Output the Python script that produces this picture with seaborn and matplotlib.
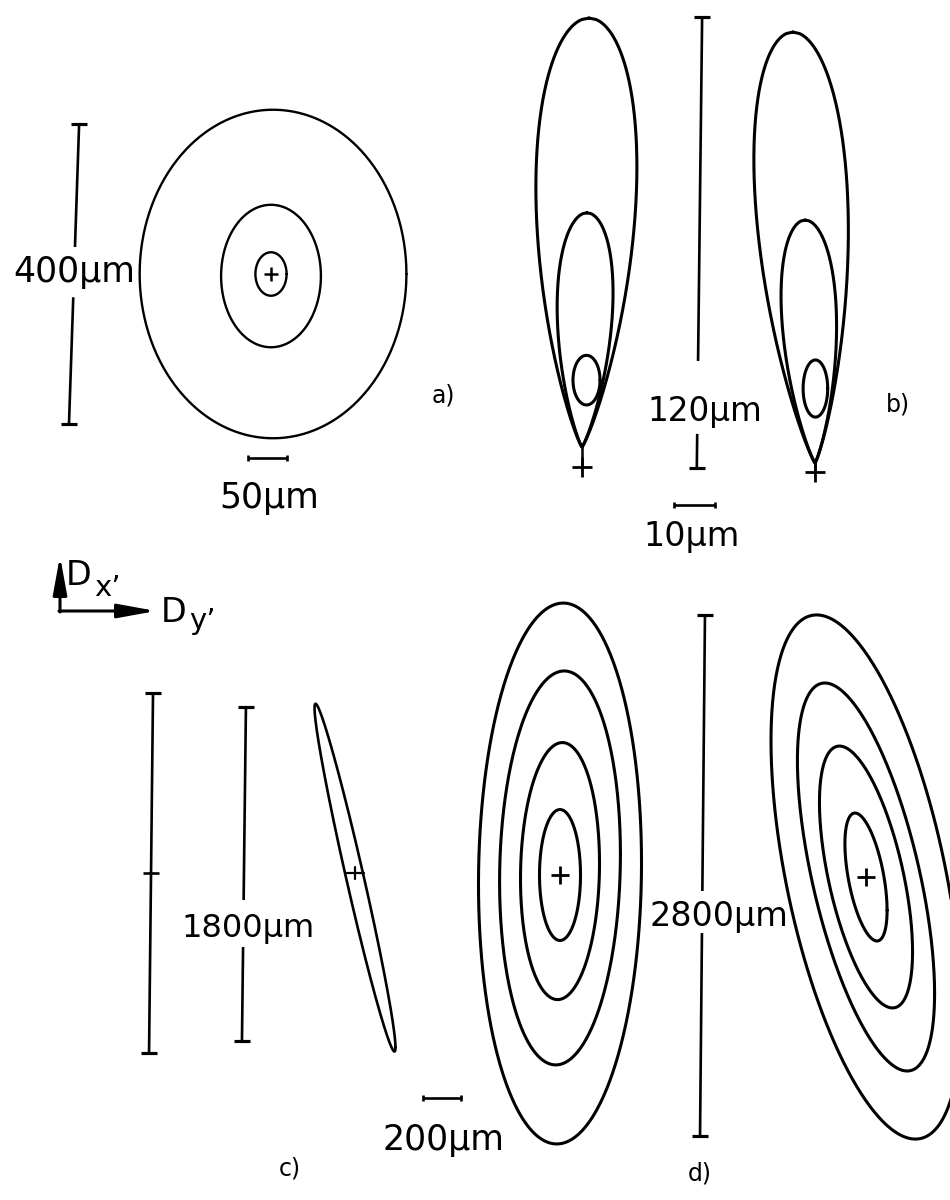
import numpy as np
import pandas as pd
import matplotlib
matplotlib.use("Agg")
import matplotlib.pyplot as plt
import seaborn as sns

sns.set_theme(style="white")
plt.rcParams["font.family"] = ["DejaVu Sans"]
plt.rcParams["text.color"] = "black"

# ------------------------------------------------------------------
# Beam-spot contours, in micrometres, relative to each beam centre (+)
# ------------------------------------------------------------------
# a) three nearly round contours
a_half_w = [171, 64, 20]
a_half_h = [219, 95, 29]
a_shift_x = [2.6, 0.0, 0.0]
a_shift_y = [0.0, -2.7, 0.0]

# b) two tear-shaped contours per spot (top point, widest half-width,
#    tip height) and a small core loop (centre x, centre y, half-w, half-h)
b1_top_x = [1.7, 1.2]
b1_top_y = [119.4, 67.6]
b1_half_w = [12.3, 6.8]
b1_tip_y = [5.3, 5.3]
b1_core = [1.1, 23.1, 3.3, 6.6]

b2_top_x = [-5.4, -2.4]
b2_top_y = [117.0, 67.0]
b2_half_w = [11.3, 6.7]
b2_tip_y = [2.4, 2.4]
b2_core = [0.1, 22.2, 3.0, 7.6]

# c) one flat, strongly coupled contour
c_half_w = [213]
c_half_h = [935]
c_corr = [-0.975]
c_shift_y = [-25]

# d) four nested contours for each of the two spots
d1_half_w = [429, 318, 208, 108]
d1_half_h = [1454, 1059, 691, 352]
d1_corr = [0.04, 0.07, 0.06, 0.0]
d1_shift_y = [8, 38, 21, 0]

d2_half_w = [500, 361, 245, 111]
d2_half_h = [1409, 1043, 704, 344]
d2_corr = [-0.52, -0.6, -0.57, -0.52]
d2_shift_x = [0, 0, 0, 0]

# scale bar lengths (µm)
bar_a_v, bar_a_h = 400, 50
bar_b_v, bar_b_h = 120, 10
bar_c_v, bar_c_ref = 1800, 1940
bar_d_v, bar_d_h = 2800, 200

# ------------------------------------------------------------------
# Layout: pixel position of each beam centre and scale (px per µm)
# ------------------------------------------------------------------
FIG_W, FIG_H = 950, 1200
frames = {
    "a": ((271, 274), (0.78, 0.75)),
    "b1": ((582, 467), (4.1, 3.76)),
    "b2": ((815, 472), (4.1, 3.76)),
    "c": ((355, 873), (0.19, 0.186)),
    "d1": ((560, 875), (0.19, 0.186)),
    "d2": ((866, 877), (0.19, 0.186)),
}

fig = plt.figure(figsize=(FIG_W / 100, FIG_H / 100), dpi=100)
fig.patch.set_facecolor("white")


def frame_limits(name):
    (ox, oy), (sx, sy) = frames[name]
    return (-ox / sx, (FIG_W - ox) / sx), (-(FIG_H - oy) / sy, oy / sy)


def frame_axes(name):
    ax = fig.add_axes([0, 0, 1, 1], label=name)
    ax.set_axis_off()
    ax.patch.set_visible(False)
    return ax


def ellipse(w, h, rho=0.0, cx=0.0, cy=0.0, n=400):
    t = np.linspace(0, 2 * np.pi, n)
    x = cx + w * np.cos(t)
    y = cy + h * (rho * np.cos(t) + np.sqrt(1 - rho ** 2) * np.sin(t))
    return x, y


def teardrop(top_x, top_y, tip_y, half_w, tip_x=0.0, n=300, p=0.5, q=0.85):
    s = np.linspace(0, 1, n)
    f = s ** p * (1 - s) ** q
    f /= f.max()
    xc = top_x + (tip_x - top_x) * s
    y = top_y + (tip_y - top_y) * s
    x = np.concatenate([xc + half_w * f, (xc - half_w * f)[::-1]])
    return x, np.concatenate([y, y[::-1]])


def draw_contours(ax, curves, lw):
    parts = [pd.DataFrame({"x": x, "y": y, "contour": i})
             for i, (x, y) in enumerate(curves)]
    df = pd.concat(parts, ignore_index=True)
    sns.lineplot(data=df, x="x", y="y", units="contour", estimator=None,
                 sort=False, color="black", linewidth=lw, ax=ax,
                 legend=False)


def vbar(ax, x_top, x_bot, y_bot, y_top, gap=None, cap=11, lw=1.9,
         mid_tick=None):
    def x_at(y):
        return x_bot + (x_top - x_bot) * (y - y_bot) / (y_top - y_bot)
    spans = [(y_bot, y_top)] if gap is None else [(y_bot, gap[0]), (gap[1], y_top)]
    for ya, yb in spans:
        ax.plot([x_at(ya), x_at(yb)], [ya, yb], color="black", lw=lw,
                solid_capstyle="butt")
    ax.plot([x_top, x_bot], [y_top, y_bot], ls="none", marker="_",
            ms=cap, mew=lw * 1.2, color="black")
    if mid_tick is not None:
        ax.plot([x_at(mid_tick)], [mid_tick], marker="_", ms=cap * 1.1,
                mew=lw, color="black")


def hbar(ax, x0, x1, y, lw=1.9, tick=5):
    ax.plot([x0, x1], [y, y], color="black", lw=lw, solid_capstyle="butt")
    ax.plot([x0, x1], [y, y], ls="none", marker="|", ms=tick, mew=lw,
            color="black")


def label(ax, x, y, s, size=24):
    ax.text(x, y, s, ha="center", va="baseline", fontsize=size,
            color="black")


# ---------------- a) ----------------
ax_a = frame_axes("a")
draw_contours(ax_a, [ellipse(w, h, 0.0, dx, dy) for w, h, dx, dy in
                     zip(a_half_w, a_half_h, a_shift_x, a_shift_y)], lw=1.7)
ax_a.plot([0], [0], marker="+", ms=10, mew=1.8, color="black")
vbar(ax_a, -246, -259, -bar_a_v / 2, bar_a_v / 2, gap=(-31, 36), cap=12)
label(ax_a, -252.6, -10.7, f"{bar_a_v}µm", 25)
hbar(ax_a, -29.5, -29.5 + bar_a_h, -245.3)
label(ax_a, -2.6, -312, f"{bar_a_h}µm", 25)
label(ax_a, 220.5, -172, "a)", 17)

# ---------------- b) ----------------
for name, tx, ty, hw, tip, core in [
        ("b1", b1_top_x, b1_top_y, b1_half_w, b1_tip_y, b1_core),
        ("b2", b2_top_x, b2_top_y, b2_half_w, b2_tip_y, b2_core)]:
    ax_b = frame_axes(name)
    curves = [teardrop(x, y, t, w) for x, y, w, t in zip(tx, ty, hw, tip)]
    curves.append(ellipse(core[2], core[3], 0.0, core[0], core[1]))
    draw_contours(ax_b, curves, lw=2.2)
    ax_b.plot([0, 0], [tip[0], 0], color="black", lw=1.8)
    ax_b.plot([0], [0], marker="+", ms=15, mew=2.0, color="black")
    if name == "b1":
        vbar(ax_b, 29.3, 28.0, -0.3, -0.3 + bar_b_v, gap=(8.8, 28.2), cap=11)
        label(ax_b, 30.0, 12.2, f"{bar_b_v}µm", 23.5)
        hbar(ax_b, 22.4, 22.4 + bar_b_h, -10.1)
        label(ax_b, 26.7, -21.0, f"{bar_b_h}µm", 24)
    else:
        label(ax_b, 20.2, 16.2, "b)", 17)

# ---------------- c) ----------------
ax_c = frame_axes("c")
draw_contours(ax_c, [ellipse(w, h, r, 0.0, dy) for w, h, r, dy in
                     zip(c_half_w, c_half_h, c_corr, c_shift_y)], lw=1.9)
ax_c.plot([-47, 47], [0, 0], color="black", lw=1.6)
ax_c.plot([0, 0], [-34, 34], color="black", lw=1.6)
vbar(ax_c, -1063, -1084, -bar_c_ref / 2, bar_c_ref / 2, cap=11, mid_tick=0)
vbar(ax_c, -574, -595, -905, -905 + bar_c_v, gap=(-398, -145), cap=11)
label(ax_c, -563, -344, f"{bar_c_v}µm", 23)
label(ax_c, -342, -1624, "c)", 17)

# ---------------- d) ----------------
ax_d1 = frame_axes("d1")
draw_contours(ax_d1, [ellipse(w, h, r, 0.0, dy) for w, h, r, dy in
                      zip(d1_half_w, d1_half_h, d1_corr, d1_shift_y)], lw=2.2)
ax_d1.plot([0], [0], marker="+", ms=13, mew=2.0, color="black")
vbar(ax_d1, 763, 737, -1402, -1402 + bar_d_v, gap=(-312, -86), cap=12)
label(ax_d1, 837, -274, f"{bar_d_v}µm", 24)
hbar(ax_d1, -721, -721 + bar_d_h, -1199)
label(ax_d1, -611, -1478, f"{bar_d_h}µm", 25)
label(ax_d1, 737, -1640, "d)", 17)

ax_d2 = frame_axes("d2")
draw_contours(ax_d2, [ellipse(w, h, r, dx, 0.0) for w, h, r, dx in
                      zip(d2_half_w, d2_half_h, d2_corr, d2_shift_x)], lw=2.2)
ax_d2.plot([0], [0], marker="+", ms=13, mew=2.0, color="black")

# fix every frame to its pixel scale
for ax in fig.axes:
    name = ax.get_label()
    if name in frames:
        xl, yl = frame_limits(name)
        ax.set_xlim(*xl)
        ax.set_ylim(*yl)

# ---------------- orientation arrows ----------------
ax0 = fig.add_axes([0, 0, 1, 1], label="canvas")
ax0.set_xlim(0, FIG_W)
ax0.set_ylim(FIG_H, 0)
ax0.set_axis_off()
ax0.patch.set_visible(False)
arrow = dict(arrowstyle="-|>,head_length=2.3,head_width=0.42",
             color="black", lw=2.2, mutation_scale=10, shrinkA=0, shrinkB=0)
ax0.annotate("", xy=(60, 556), xytext=(60, 612), arrowprops=arrow)
ax0.annotate("", xy=(156, 611), xytext=(59, 611), arrowprops=arrow)
ax0.text(66, 585, "D", fontsize=24, ha="left", va="baseline", color="black")
ax0.text(94, 596, "x’", fontsize=21, ha="left", va="baseline", color="black")
ax0.text(161, 622, "D", fontsize=24, ha="left", va="baseline", color="black")
ax0.text(189, 629, "y’", fontsize=21, ha="left", va="baseline", color="black")

fig.savefig("out.png", dpi=100, facecolor="white")
